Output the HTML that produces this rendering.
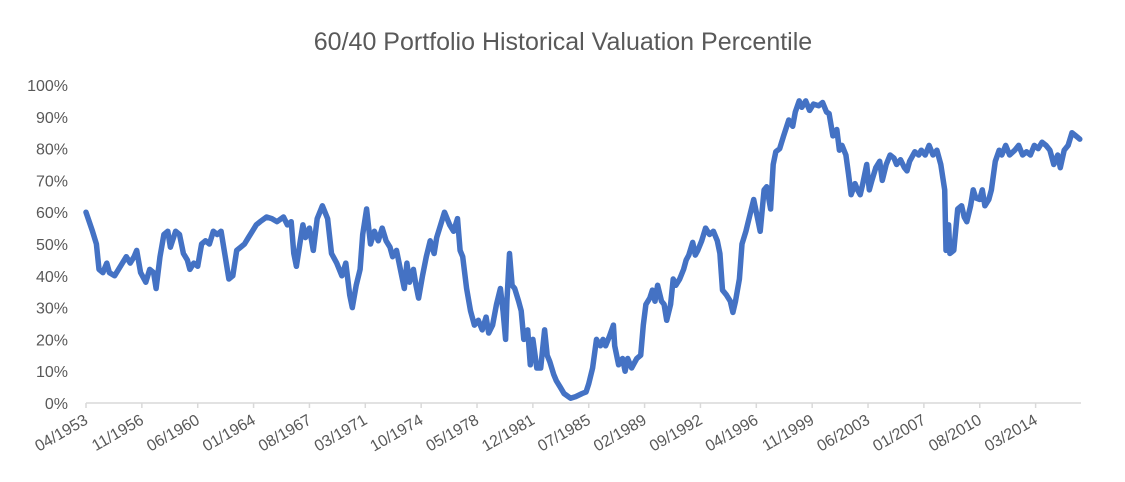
<!DOCTYPE html>
<html><head><meta charset="utf-8"><style>
html,body{margin:0;padding:0;background:#fff;}
svg{display:block;font-family:"Liberation Sans",sans-serif;}
</style></head><body>
<svg id="chart" width="1125" height="482">
<text x="563" y="50" text-anchor="middle" font-size="25" fill="#595959">60/40 Portfolio Historical Valuation Percentile</text>
<g id="yaxis"></g>
<g id="xaxis"></g>
<path id="line" fill="none" stroke="#4472C4" stroke-width="5.5" stroke-linejoin="round" stroke-linecap="round"></path>
</svg>
<script>
const tickLabels = ["04/1953","11/1956","06/1960","01/1964","08/1967","03/1971","10/1974","05/1978","12/1981","07/1985","02/1989","09/1992","04/1996","11/1999","06/2003","01/2007","08/2010","03/2014"];
const yTicks = [0,10,20,30,40,50,60,70,80,90,100];
const months = [0,5,8,10,13,16,18,22,25,28,31,34,37,39,42,46,49,52,54,57,60,63,65,69,72,75,78,80,83,86,89,92,95,98,101,104,110,113,116,119,122,125,128,131,134,139,143,147,152,155,158,160,162,165,167,169,172,175,178,182,186,189,193,195,197,200,203,205,208,211,213,216,219,222,225,228,231,234,236,239,242,245,247,249,252,254,256,259,262,265,268,270,273,276,280,283,286,288,290,293,296,299,302,305,308,310,313,316,319,321,323,324,326,328,330,333,335,337,340,342,344,347,350,353,355,357,360,362,365,368,373,377,382,385,387,390,393,396,398,400,403,406,407,410,413,415,417,420,424,427,429,431,434,436,438,440,443,445,447,450,452,454,457,460,462,464,467,469,471,474,477,480,483,486,488,490,493,496,498,500,503,505,508,511,514,517,519,522,524,527,529,531,534,537,541,544,546,549,551,554,557,560,564,567,570,572,575,578,580,582,585,587,589,592,594,596,598,601,603,605,608,611,613,616,619,622,624,627,630,632,634,638,641,643,646,649,652,655,658,661,662,664,665,668,671,674,676,678,681,683,685,688,690,692,695,697,700,703,705,708,711,715,718,721,724,727,730,733,736,739,742,745,748,750,753,756,759,762,765];
const values = [60,54,50,42,41,44,41,40,42,44,46,44,46,48,41,38,42,41,36,46,53,54,49,54,53,47,45,42,44,43,50,51,50,54,53,54,39,40,48,49,50,52,54,56,57,58.5,58,57,58.5,56,57,47,43,51,56,52,55,48,58,62,58,47,44,42,40,44,34,30,37,42,53,61,50,54,51,55,51,49,46,48,42,36,44,38,42,37,33,40,46,51,47,52,56,60,56,54,58,48,46,36,29,24.5,26,23,27,22,24.5,31,36,29,20,32,47,37,36,32,29,20,23,12,20,11,11,23,15,13,9,7,5,3,1.5,2,3,3.5,6,11,20,18,20,18,21,24.5,18,12,14,10,14,11,14,15,24.5,31,33,35.5,32,37,32,31,26,31,39,37,39,42,45,46.5,50.5,46.5,48,51,55,53,54,51,47,35.5,34,32,28.5,32,39,50,54,59,64,58,54,67,68,61,75,79,80,84,89,87,91.5,95,93,95,92,94,93.5,94.5,91.5,91,84,86,79.5,81,78,72,65.5,69,67,65.5,69,75,67,70,74,76,70,75,78,77,75,76.5,74,73,76,79,78,79.5,78,81,78,79.5,75,67,48,56,47,48,61,62,58.5,57,62,67,64.5,64,67,62,64,67,76,79.5,78,81,78,79.5,81,78,79,78,81,80,82,81,79.5,75,78,74,79.5,81,85,84,83];

const NS="http://www.w3.org/2000/svg";
const x0=86, x1=1035.6, y0=403, y1=85;
const monthSpan=43*(tickLabels.length-1);
const xs=m=>x0+(x1-x0)*m/monthSpan;
const ys=v=>y0-(y0-y1)*v/100;
const yg=document.getElementById('yaxis'), xg=document.getElementById('xaxis');
yTicks.forEach(t=>{
  const tx=document.createElementNS(NS,'text');
  tx.setAttribute('x',68);tx.setAttribute('y',ys(t)+6);
  tx.setAttribute('text-anchor','end');tx.setAttribute('font-size','16');tx.setAttribute('fill','#595959');
  tx.textContent=t+'%';
  
  
  yg.appendChild(tx);
});
const ax=document.createElementNS(NS,'line');
ax.setAttribute('x1',x0);ax.setAttribute('x2',1081);ax.setAttribute('y1',y0);ax.setAttribute('y2',y0);
ax.setAttribute('stroke','#d9d9d9');ax.setAttribute('stroke-width','1.5');


xg.appendChild(ax);
tickLabels.forEach((lab,i)=>{
  const x=xs(i*43);
  const tk=document.createElementNS(NS,'line');
  tk.setAttribute('x1',x);tk.setAttribute('x2',x);tk.setAttribute('y1',y0);tk.setAttribute('y2',y0+5);
  tk.setAttribute('stroke','#d9d9d9');tk.setAttribute('stroke-width','1.5');
  
  
  xg.appendChild(tk);
  const tx=document.createElementNS(NS,'text');
  tx.setAttribute('text-anchor','end');tx.setAttribute('font-size','16');tx.setAttribute('fill','#595959');
  tx.setAttribute('transform','translate('+(x+3)+','+(y0+20)+') rotate(-30)');
  tx.textContent=lab;
  
  
  xg.appendChild(tx);
});
let d='';
months.forEach((m,i)=>{d+=(i?'L':'M')+xs(m).toFixed(1)+','+ys(values[i]).toFixed(1);});
document.getElementById('line').setAttribute('d',d);
</script>
</body></html>
